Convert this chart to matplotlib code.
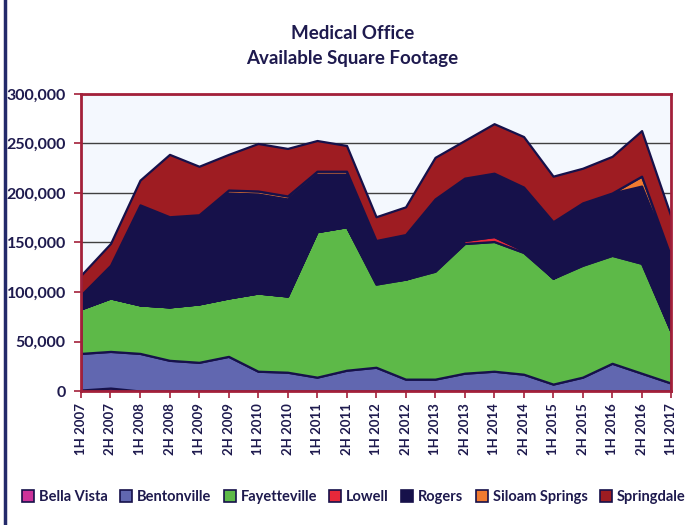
import matplotlib
matplotlib.use("Agg")
import matplotlib.pyplot as plt
from matplotlib.lines import Line2D
from matplotlib.ticker import FuncFormatter

plt.rcParams['font.family'] = ['Lato', 'DejaVu Sans']

periods = ["1H 2007", "2H 2007", "1H 2008", "2H 2008", "1H 2009", "2H 2009",
           "1H 2010", "2H 2010", "1H 2011", "2H 2011", "1H 2012", "2H 2012",
           "1H 2013", "2H 2013", "1H 2014", "2H 2014", "1H 2015", "2H 2015",
           "1H 2016", "2H 2016", "1H 2017"]

# values in thousands of square feet
bella_vista = [1, 3, 0, 0, 0, 0, 0, 0, 0, 0, 0, 0, 0, 0, 0, 0, 0, 0, 0, 0, 0]
bentonville = [37, 37, 38, 31, 29, 35, 20, 19, 14, 21, 24, 12, 12, 18, 20, 17, 7, 14, 28, 18, 8]
fayetteville = [45, 54, 49, 54, 59, 59, 79, 77, 147, 145, 84, 101, 109, 131, 131, 123, 107, 113, 109, 111, 52]
lowell = [0, 0, 0, 0, 0, 0, 0, 0, 0, 0, 2, 0, 2, 3, 5, 2, 0, 2, 2, 2, 0]
rogers = [14, 33, 101, 91, 89, 106, 100, 98, 58, 53, 40, 45, 71, 61, 62, 63, 57, 61, 61, 76, 74]
siloam_springs = [0, 0, 0, 0, 1, 3, 3, 3, 3, 3, 2, 0, 0, 2, 2, 1, 0, 0, 0, 10, 1]
springdale = [20, 22, 25, 63, 49, 36, 48, 48, 31, 26, 24, 28, 42, 38, 50, 51, 46, 35, 37, 46, 41]

names = ["Bella Vista", "Bentonville", "Fayetteville", "Lowell", "Rogers",
         "Siloam Springs", "Springdale"]
colors = ["#CC3399", "#6167B0", "#5DB948", "#E8283A", "#16114A", "#F07A30", "#9E1C22"]

NAVY = "#1E1A4E"
FRAME = "#A3203A"

series = [bella_vista, bentonville, fayetteville, lowell, rogers, siloam_springs, springdale]
series = [[v * 1000 for v in s] for s in series]
x = list(range(len(periods)))

fig = plt.figure(figsize=(6.94, 5.25), dpi=100)
ax = fig.add_axes([0.1167, 0.2552, 0.8503, 0.5658])
ax.set_facecolor("#F4F8FE")

for yv in range(50000, 300001, 50000):
    ax.axhline(yv, color="#404040", lw=1.0, zorder=0)

ax.stackplot(x, *series, colors=colors, edgecolor="#16114A", linewidth=1.6, zorder=2)

ax.set_xlim(0, len(periods) - 1)
ax.set_ylim(0, 300000)
ax.set_xticks(x)
ax.set_xticklabels(periods, rotation=90, fontsize=9.5, fontweight="bold", color=NAVY)
ax.set_yticks(range(0, 300001, 50000))
ax.yaxis.set_major_formatter(FuncFormatter(lambda v, p: f"{int(v):,}"))
for lab in ax.get_yticklabels():
    lab.set_fontsize(11.5)
    lab.set_fontweight("bold")
    lab.set_color(NAVY)
ax.tick_params(axis="both", direction="out", length=5, color=FRAME, width=1.2)
ax.tick_params(axis="y", pad=6)
for sp in ax.spines.values():
    sp.set_color(FRAME)
    sp.set_linewidth(2)
    sp.set_zorder(5)

fig.text(0.508, 0.937, "Medical Office", ha="center", va="center",
         fontsize=13.5, fontweight="bold", color=NAVY)
fig.text(0.508, 0.889, "Available Square Footage", ha="center", va="center",
         fontsize=13.5, fontweight="bold", color=NAVY)

handles = [Line2D([], [], marker="s", ls="none", markersize=8,
                  markerfacecolor=c, markeredgecolor="#16114A", markeredgewidth=1.2)
           for c in colors]
fig.legend(handles, names, loc="center", bbox_to_anchor=(0.51, 0.053), ncol=7,
           frameon=False, handlelength=0.8, handletextpad=0.35, columnspacing=0.85,
           prop={"weight": "bold", "size": 10.5}, labelcolor=NAVY)

fig.add_artist(Line2D([0.007, 0.007], [0, 1], transform=fig.transFigure,
                      color="#232A6A", lw=2.5))

fig.savefig("out.png", dpi=100)
